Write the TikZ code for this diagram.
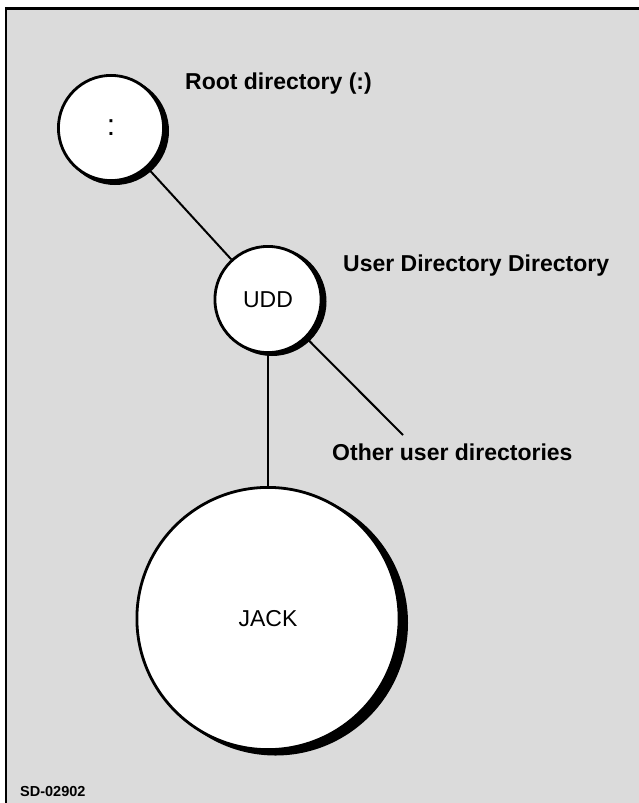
\documentclass[tikz,border=0pt]{standalone}
\usepackage{fontspec}
\setmainfont{Liberation Sans}
\definecolor{screen}{gray}{0.86}
\begin{document}
\begin{tikzpicture}[x=1pt,y=-1pt,
  dirnode/.style={circle, draw=black, line width=2.8pt, fill=white, inner sep=0pt,
    font=\fontsize{23}{23}\selectfont},
  castshadow/.style 2 args={preaction={draw=black, fill=black, line width=2.8pt,
    transform canvas={xshift=#1, yshift=#2}}},
  conn/.style={draw=black, line width=2pt},
  lbl/.style={anchor=base west, inner sep=0pt, font=\bfseries\fontsize{23}{23}\selectfont}]
  \useasboundingbox (0,0) rectangle (638,803);

  % screened panel with its frame on the left and top
  \fill[screen] (6,8.7) rectangle (640,805);
  \draw[line width=2.5pt, line join=miter] (6,805) -- (6,8.7) -- (640,8.7);

  % directory circles, each with a solid cast shadow to the lower right
  \node[dirnode, minimum size=105.2pt, castshadow={4pt}{-3pt}]
    (root) at (111,128) {\fontsize{30}{30}\selectfont :};
  \node[dirnode, minimum size=106.2pt, castshadow={4pt}{-2pt}]
    (udd) at (268,299.5) {UDD};
  \node[dirnode, minimum size=262.2pt, castshadow={7.5pt}{-4.5pt}]
    (jack) at (268,618.5) {\raisebox{-6pt}{JACK}};

  % connectors
  \coordinate (others) at (403,435);
  \draw[conn] (root) -- (udd);
  \draw[conn] (udd) -- (jack);
  \draw[conn] (udd) -- (others);

  % labels
  \node[lbl] (rootlbl) at (185,89.3) {Root directory (:)};
  \node[lbl] (uddlbl) at (343,271.7) {User Directory Directory};
  \node[lbl] (otherlbl) at (332,460.7) {Other user directories};
  \node[anchor=base west, inner sep=0pt, font=\bfseries\fontsize{14.5}{14.5}\selectfont]
    (code) at (20,796) {SD-02902};
\end{tikzpicture}
\end{document}
